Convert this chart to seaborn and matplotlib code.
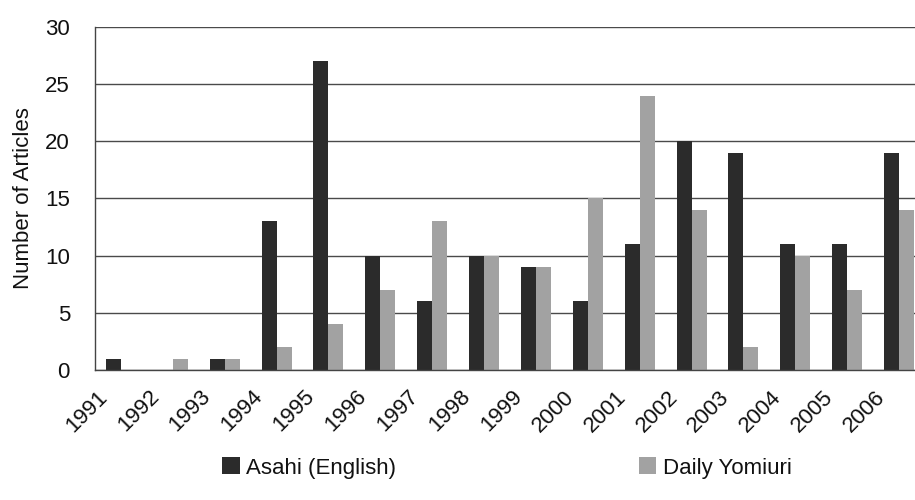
import matplotlib
matplotlib.use("Agg")
import matplotlib.pyplot as plt
import matplotlib.transforms as mtransforms
import seaborn as sns
import pandas as pd

years = ["1991", "1992", "1993", "1994", "1995", "1996", "1997", "1998",
         "1999", "2000", "2001", "2002", "2003", "2004", "2005", "2006"]
asahi = [1, 0, 1, 13, 27, 10, 6, 10, 9, 6, 11, 20, 19, 11, 11, 19]
yomiuri = [0, 1, 1, 2, 4, 7, 13, 10, 9, 15, 24, 14, 2, 10, 7, 14]
series_names = ["Asahi (English)", "Daily Yomiuri"]
series_colors = ["#2b2b2b", "#a2a2a2"]

df = pd.DataFrame({
    "Year": years * 2,
    "Articles": asahi + yomiuri,
    "Paper": [series_names[0]] * len(years) + [series_names[1]] * len(years),
})

sns.set_style("white")
plt.rcParams["font.family"] = ["Liberation Sans", "DejaVu Sans"]

fig = plt.figure(figsize=(9.15, 5.0), dpi=100)
ax = fig.add_axes([95 / 915, 1 - 370 / 500, 830 / 915, 343 / 500])

sns.barplot(data=df, x="Year", y="Articles", hue="Paper", order=years,
            hue_order=series_names, palette=series_colors, width=0.58,
            saturation=1, edgecolor="none", linewidth=0, ax=ax, legend=True)

ax.set_xlim(-0.5, len(years) - 0.5)
ax.set_ylim(0, 30)
ax.set_yticks(range(0, 31, 5))
ax.yaxis.grid(True, color="#4a4a4a", linewidth=1.0)
ax.set_axisbelow(True)
for side in ("top", "right"):
    ax.spines[side].set_visible(False)
for side in ("left", "bottom"):
    ax.spines[side].set_color("#444444")
    ax.spines[side].set_linewidth(1.0)

ax.tick_params(axis="y", length=0, pad=18, labelsize=16, labelcolor="#111111")
ax.tick_params(axis="x", which="major", length=0, pad=17, labelsize=16,
               labelcolor="#111111")
ax.set_xticks([i - 0.5 for i in range(1, len(years))], minor=True)
ax.tick_params(axis="x", which="minor", direction="in", length=4.5,
               width=1.0, color="#444444")

shift = mtransforms.ScaledTranslation(-0.17, 0, fig.dpi_scale_trans)
for lab in ax.get_xticklabels():
    lab.set_rotation(45)
    lab.set_ha("right")
    lab.set_va("center")
    lab.set_rotation_mode("anchor")
    lab.set_transform(lab.get_transform() + shift)

ax.set_xlabel("")
ax.set_ylabel("Number of Articles", fontsize=16, labelpad=8, color="#111111")

handles, labels = ax.get_legend_handles_labels()
ax.get_legend().remove()
fig.legend(handles, labels, loc="center", bbox_to_anchor=(0.554, 0.064),
           ncol=2, frameon=False, handlelength=0.8, handleheight=0.8,
           handletextpad=0.28, columnspacing=10.9, fontsize=16,
           labelcolor="#111111")

fig.savefig("out.png", dpi=100)
